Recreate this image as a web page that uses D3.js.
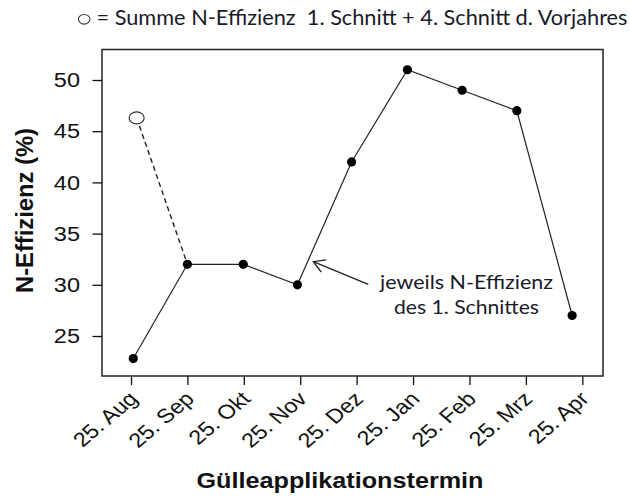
<!DOCTYPE html>
<html>
<head>
<meta charset="utf-8">
<script src="https://cdn.jsdelivr.net/npm/d3@7"></script>
<style>
  html, body { margin: 0; padding: 0; background: #ffffff; }
  svg { display: block; }
</style>
</head>
<body>
<svg id="chart" width="630" height="497"></svg>
<script>
// ---- data ----
const tickLabels = ["25. Aug", "25. Sep", "25. Okt", "25. Nov", "25. Dez", "25. Jan", "25. Feb", "25. Mrz", "25. Apr"];
const pointPositions = [0.04, 1.0, 1.99, 2.95, 3.91, 4.9, 5.87, 6.84, 7.82]; // application date, in months after 25. Aug
const efficiency = [22.8, 32, 32, 30, 42, 51, 49, 47, 27];                    // N-Effizienz 1. Schnitt (%)
const prevYearPosition = [0.1];   // open circle
const prevYearSum = [46.3];       // Summe 1. Schnitt + 4. Schnitt d. Vorjahres
const yTicks = [25, 30, 35, 40, 45, 50];

const headerText = "= Summe N-Effizienz\u00a0\u00a01. Schnitt + 4. Schnitt d. Vorjahres";
const noteLines = ["jeweils N-Effizienz", "des 1. Schnittes"];
const xTitle = "Gülleapplikationstermin";
const yTitle = "N-Effizienz (%)";

// ---- layout ----
const box = { left: 102, right: 603, top: 49.5, bottom: 376 };
const svg = d3.select("#chart");
const ink = "#111";
const sx = 1.175; // horizontal widening of the labels' font

const x = d3.scaleLinear().domain([0, 8]).range([131, 582.3]);
const y = d3.scaleLinear().domain([25, 50]).range([336, 80]);

// plot box
svg.append("rect")
  .attr("x", box.left).attr("y", box.top)
  .attr("width", box.right - box.left).attr("height", box.bottom - box.top)
  .attr("fill", "none").attr("stroke", "#222").attr("stroke-width", 1.5);

// y axis
const yAxis = d3.axisLeft(y).tickValues(yTicks).tickSize(9.5).tickFormat("");
const gy = svg.append("g").attr("transform", `translate(${box.left},0)`).call(yAxis);
gy.select(".domain").remove();
gy.selectAll(".tick line").attr("stroke", ink).attr("stroke-width", 1.3);
svg.append("g").selectAll("text").data(yTicks).join("text")
  .attr("transform", d => `translate(80,${y(d)}) scale(${sx},1)`)
  .attr("dy", "0.36em")
  .attr("text-anchor", "end")
  .attr("font-family", "'Liberation Sans', Arial, sans-serif")
  .attr("font-size", 20)
  .attr("fill", ink)
  .text(d => d);

// x axis
const xAxis = d3.axisBottom(x).tickValues(d3.range(tickLabels.length)).tickSize(9).tickFormat("");
const gx = svg.append("g").attr("transform", `translate(0,${box.bottom})`).call(xAxis);
gx.select(".domain").remove();
gx.selectAll(".tick line").attr("stroke", ink).attr("stroke-width", 1.3);
svg.append("g").selectAll("text").data(tickLabels).join("text")
  .attr("transform", (d, i) => `translate(${x(i) + 2},${395}) scale(${sx},1) rotate(-45)`)
  .attr("dy", "0.36em")
  .attr("text-anchor", "end")
  .attr("font-family", "'Liberation Sans', Arial, sans-serif")
  .attr("font-size", 20)
  .attr("fill", ink)
  .text(d => d);

// axis titles
svg.append("text")
  .attr("x", 340).attr("y", 488)
  .attr("text-anchor", "middle")
  .attr("font-family", "'Liberation Sans', Arial, sans-serif")
  .attr("font-weight", "bold")
  .attr("font-size", 22)
  .attr("textLength", 287).attr("lengthAdjust", "spacingAndGlyphs")
  .attr("fill", ink)
  .text(xTitle);

svg.append("text")
  .attr("transform", "translate(32.5,210.5) rotate(-90)")
  .attr("text-anchor", "middle")
  .attr("font-family", "'Liberation Sans', Arial, sans-serif")
  .attr("font-weight", "bold")
  .attr("font-size", 23)
  .attr("textLength", 165).attr("lengthAdjust", "spacingAndGlyphs")
  .attr("fill", ink)
  .text(yTitle);

// data series
const pts = pointPositions.map((p, i) => ({ p, v: efficiency[i] }));
const line = d3.line().x(d => x(d.p)).y(d => y(d.v));

// dashed line previous year sum -> Sep point
const dashed = [{ p: prevYearPosition[0], v: prevYearSum[0] }, pts[1]];
svg.append("path")
  .attr("d", line(dashed))
  .attr("fill", "none").attr("stroke", "#222").attr("stroke-width", 1.4)
  .attr("stroke-dasharray", "5,3.5");

svg.append("path")
  .attr("d", line(pts))
  .attr("fill", "none").attr("stroke", "#222").attr("stroke-width", 1.2);

svg.append("g").selectAll("circle").data(pts).join("circle")
  .attr("cx", d => x(d.p)).attr("cy", d => y(d.v)).attr("r", 4.6)
  .attr("fill", "#000");

svg.append("ellipse")
  .attr("cx", x(prevYearPosition[0])).attr("cy", y(prevYearSum[0]))
  .attr("rx", 7.5).attr("ry", 6)
  .attr("fill", "#fff").attr("stroke", "#333").attr("stroke-width", 1.2);

// annotation arrow
const tail = [368.3, 284.3], tip = [313.3, 261.7];
svg.append("line")
  .attr("x1", tail[0]).attr("y1", tail[1]).attr("x2", tip[0]).attr("y2", tip[1])
  .attr("stroke", "#222").attr("stroke-width", 1.3);
(function () {
  const ang = Math.atan2(tail[1] - tip[1], tail[0] - tip[0]);
  const L = 13, a = Math.PI / 6;
  const w1 = [tip[0] + L * Math.cos(ang + a), tip[1] + L * Math.sin(ang + a)];
  const w2 = [tip[0] + L * Math.cos(ang - a), tip[1] + L * Math.sin(ang - a)];
  svg.append("path")
    .attr("d", `M${w1[0]},${w1[1]}L${tip[0]},${tip[1]}L${w2[0]},${w2[1]}`)
    .attr("fill", "none").attr("stroke", "#222").attr("stroke-width", 1.3);
})();

// annotation text
const noteLen = [173, 145];
svg.append("g").selectAll("text").data(noteLines).join("text")
  .attr("x", 466.5)
  .attr("y", (d, i) => 289 + i * 24.5)
  .attr("text-anchor", "middle")
  .attr("font-family", "Lato, 'Open Sans', sans-serif")
  .attr("font-size", 20)
  .attr("textLength", (d, i) => noteLen[i]).attr("lengthAdjust", "spacingAndGlyphs")
  .attr("fill", "#1a1a2a")
  .text(d => d);

// header legend
svg.append("ellipse")
  .attr("cx", 84.2).attr("cy", 19.3).attr("rx", 5.8).attr("ry", 4.8)
  .attr("fill", "#fff").attr("stroke", "#333").attr("stroke-width", 1.1);
svg.append("text")
  .attr("x", 96.5).attr("y", 25)
  .attr("font-family", "Lato, 'Open Sans', sans-serif")
  .attr("font-size", 21)
  .attr("textLength", 531).attr("lengthAdjust", "spacingAndGlyphs")
  .attr("fill", "#1a1a2a")
  .text(headerText);
</script>
</body>
</html>
